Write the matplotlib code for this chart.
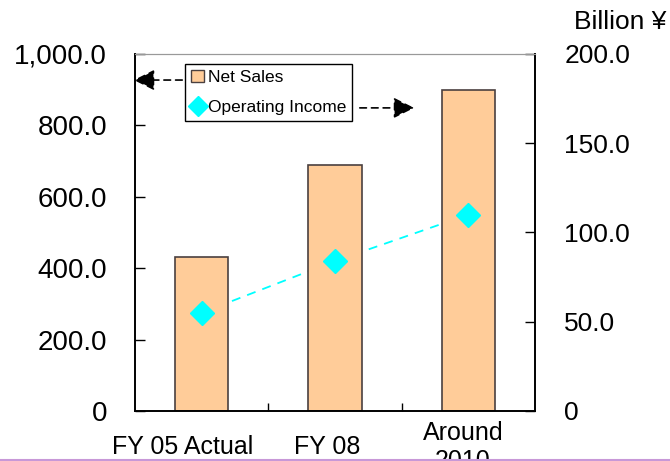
import matplotlib.pyplot as plt
from matplotlib.lines import Line2D
from matplotlib.patches import Patch

plt.rcParams['font.family'] = ['Liberation Sans', 'DejaVu Sans']

# values in Billion yen
periods = ["FY 05 Actual", "FY 08", "Around\n2010"]
net_sales = [430, 690, 900]
operating_income = [55, 84, 110]

sales_ticks = [0, 200, 400, 600, 800, 1000]
sales_tick_labels = ["0", "200.0", "400.0", "600.0", "800.0", "1,000.0"]
income_ticks = [0, 50, 100, 150, 200]
income_tick_labels = ["0", "50.0", "100.0", "150.0", "200.0"]

bar_color = "#FFCC99"
income_color = "#00FFFF"

fig = plt.figure(figsize=(6.7, 4.61), dpi=100)
ax = fig.add_axes([0.2015, 0.1085, 0.597, 0.7744])
ax2 = ax.twinx()

x = list(range(len(periods)))
ax.bar(x, net_sales, width=0.4, color=bar_color, edgecolor="#4a4040",
       linewidth=1.2, zorder=2)

ax.set_xlim(-0.5, len(periods) - 0.5)
ax.set_ylim(0, 1000)
ax2.set_ylim(0, 200)

# income series sits on the right scale but is drawn inside ax so the
# dashed line goes behind the bars and the diamonds sit on top
ax.plot(x, operating_income, color=income_color, linestyle="--", lw=1.3,
        dashes=(5, 4), transform=ax2.transData, zorder=1)
ax.plot(x, operating_income, linestyle="none", marker="D", markersize=12,
        color=income_color, transform=ax2.transData, zorder=3)

ax.set_yticks(sales_ticks, sales_tick_labels)
ax2.set_yticks(income_ticks, income_tick_labels)
ax.tick_params(axis="y", direction="in", length=7, width=1, pad=20,
               labelsize=20)
ax2.tick_params(axis="y", direction="in", length=7, width=1, pad=21,
                labelsize=19)

ax.set_xticks(x, [""] * len(x))
ax.set_xticks([0.5, 1.5], minor=True)
ax.tick_params(axis="x", which="major", length=0)
ax.tick_params(axis="x", which="minor", direction="in", length=6, width=1)

label_shift = [-0.14, -0.06, -0.04]
for xi, name, dx in zip(x, periods, label_shift):
    ax.text(xi + dx, -0.10, name, transform=ax.get_xaxis_transform(),
            ha="center", va="center", fontsize=18, linespacing=1.2)

for a in (ax, ax2):
    a.spines["top"].set_color("#999999")
    a.spines["left"].set_linewidth(1.2)
    a.spines["right"].set_linewidth(1.2)
    a.spines["bottom"].set_linewidth(1.2)

fig.text(0.995, 0.952, "Billion ¥", ha="right", va="center", fontsize=19)

handles = [
    Patch(facecolor=bar_color, edgecolor="#4a4040", label="Net Sales"),
    Line2D([], [], linestyle="none", marker="D", markersize=10,
           color=income_color, label="Operating Income"),
]
leg = ax.legend(handles=handles, loc="upper left",
                bbox_to_anchor=(0.125, 0.972), borderaxespad=0,
                fancybox=False, edgecolor="black", framealpha=1,
                fontsize=12.5, handlelength=0.75, handletextpad=0.2,
                borderpad=0.35, labelspacing=0.85)
leg.get_frame().set_linewidth(1)
leg.set_zorder(5)

# arrows pointing from the legend to the axis each series belongs to
arrow_style = dict(arrowstyle="-|>", color="black", lw=1.2,
                   linestyle=(0, (4, 3)), mutation_scale=32)
ax.annotate("", xy=(-0.01, 0.927), xytext=(0.125, 0.927),
            xycoords="axes fraction", arrowprops=arrow_style,
            annotation_clip=False, zorder=6)
ax.annotate("", xy=(0.705, 0.849), xytext=(0.555, 0.849),
            xycoords="axes fraction", arrowprops=arrow_style,
            annotation_clip=False, zorder=6)

fig.add_artist(Line2D([0, 1], [0.003, 0.003], transform=fig.transFigure,
                      color="#c898d8", lw=1.5))

fig.savefig("out.png", dpi=100)
